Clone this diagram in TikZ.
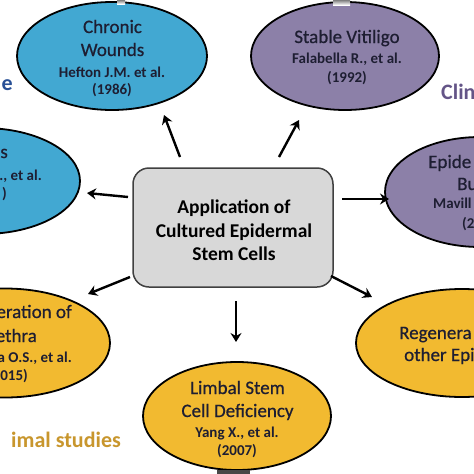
\documentclass[tikz,border=0pt]{standalone}
\usepackage{fontspec}
\setmainfont{Carlito}
\newfontfamily\semifont[FakeBold=0.6]{Carlito}
\usetikzlibrary{arrows.meta,shapes.geometric}
\definecolor{cblue}{RGB}{66,168,210}
\definecolor{cpurple}{RGB}{140,128,168}
\definecolor{corange}{RGB}{242,186,48}
\definecolor{cgray}{RGB}{216,216,216}
\definecolor{ink}{RGB}{30,30,50}
\definecolor{tblue}{RGB}{40,80,150}
\definecolor{tpurple}{RGB}{100,85,135}
\definecolor{torange}{RGB}{200,150,45}
\definecolor{shade}{RGB}{90,90,90}
\begin{document}
\begin{tikzpicture}[x=1pt,y=-1pt,
  ell/.style={ellipse,draw=black,line width=1.8pt,inner sep=0pt},
  ttl/.style={font=\semifont\fontsize{19}{23}\selectfont,anchor=base,text=ink,inner sep=0pt},
  cit/.style={font=\bfseries\fontsize{15}{18}\selectfont,anchor=base,text=ink,inner sep=0pt},
  side/.style={font=\bfseries\fontsize{22}{26}\selectfont,anchor=base,inner sep=0pt},
  ctr/.style={font=\bfseries\fontsize{19.5}{24}\selectfont,anchor=base,text=black,inner sep=0pt},
  arr/.style={line width=2.4pt,-{Stealth[length=9pt,width=11pt,inset=3pt]}}]
\useasboundingbox (0,0) rectangle (474,474);
\clip (0,0) rectangle (474,474);
% ellipses
\node[ell,fill=cblue,minimum width=190pt,minimum height=108pt] (cw) at (112,56) {};
\node[ell,fill=cpurple,minimum width=188pt,minimum height=108pt] (sv) at (345,56) {};
\node[ell,fill=cblue,minimum width=194pt,minimum height=106pt] (lb) at (-17,181) {};
\node[ell,fill=cpurple,minimum width=190pt,minimum height=110pt] (eb) at (480,192) {};
\node[ell,fill=corange,minimum width=210pt,minimum height=109pt] (ur) at (5,343) {};
\node[ell,fill=corange,minimum width=212pt,minimum height=108pt] (oe) at (462,343) {};
\node[ell,fill=corange,minimum width=188pt,minimum height=108pt] (ls) at (237,416) {};
% cropped shadow bits at the edges
\fill[shade] (117,0) rectangle (125,4);
\fill[shade] (333,0) rectangle (350,5);
\fill[shade!80!black] (217,470) rectangle (250,474);
% central box
\node[draw=black!75,line width=1.5pt,fill=cgray,rounded corners=16pt,minimum width=200pt,minimum height=119pt] (box) at (233,227.5) {};
\node[ctr] (c1) at (234,213) {Application of};
\node[ctr] (c2) at (234,237) {Cultured Epidermal};
\node[ctr] (c3) at (234,260) {Stem Cells};
% Chronic wounds
\node[ttl] (cw1) at (112.5,33) {Chronic};
\node[ttl] (cw2) at (112.5,56) {Wounds};
\node[cit] (cw3) at (112,77) {Hefton J.M. et al.};
\node[cit] (cw4) at (112,94) {(1986)};
% Stable vitiligo
\node[ttl] (sv1) at (347,43) {Stable Vitiligo};
\node[cit] (sv2) at (347,63) {Falabella R., et al.};
\node[cit] (sv3) at (347,82) {(1992)};
% left blue (cropped)
\node[ttl,anchor=base east] (lb1) at (8,158) {s};
\node[cit,anchor=base east] (lb2) at (42,180) {., et al.};
\node[cit,anchor=base east] (lb3) at (7,198) {)};
% right purple (cropped)
\node[ttl,anchor=base west] (eb1) at (428,168) {Epide};
\node[ttl,anchor=base west] (eb2) at (457,190) {Bu};
\node[cit,anchor=base west] (eb3) at (433,208) {Mavill};
\node[cit,anchor=base west] (eb4) at (462,228) {(2};
% bottom left orange (cropped)
\node[ttl,anchor=base east] (ur1) at (72,318) {eration of};
\node[ttl,anchor=base east] (ur2) at (37,342) {ethra};
\node[cit,anchor=base east] (ur3) at (72,362) {a O.S., et al.};
\node[cit,anchor=base east] (ur4) at (28,380) {015)};
% bottom right orange (cropped)
\node[ttl,anchor=base west] (oe1) at (399,339) {Regenera};
\node[ttl,anchor=base west] (oe2) at (404,361) {other Epi};
% limbal
\node[ttl] (ls1) at (237.5,394) {Limbal Stem};
\node[ttl] (ls2) at (237.5,417) {Cell Deficiency};
\node[cit] (ls3) at (237,437) {Yang X., et al.};
\node[cit] (ls4) at (237,455) {(2007)};
% side labels
\node[side,text=tblue,anchor=base east] (lab1) at (13,90) {e};
\node[side,text=tpurple,anchor=base west] (lab2) at (441,99) {Clin};
\node[side,text=torange,anchor=base east] (lab3) at (121,447) {imal studies};
% arrow end points
\coordinate (a1s) at (180,157); \coordinate (a1e) at (164,115);
\coordinate (a2s) at (279,157); \coordinate (a2e) at (299,120);
\coordinate (a3s) at (128,197); \coordinate (a3e) at (87,193);
\coordinate (a4s) at (342,199); \coordinate (a4e) at (389,199);
\coordinate (a5s) at (130,277); \coordinate (a5e) at (88,294);
\coordinate (a6s) at (236,301); \coordinate (a6e) at (236,342);
\coordinate (a7s) at (331,276); \coordinate (a7e) at (372,297);
\draw[arr] (a1s) -- (a1e);
\draw[arr] (a2s) -- (a2e);
\draw[arr] (a3s) -- (a3e);
\draw[arr] (a4s) -- (a4e);
\draw[arr] (a5s) -- (a5e);
\draw[arr] (a6s) -- (a6e);
\draw[arr] (a7s) -- (a7e);
\end{tikzpicture}
\end{document}
